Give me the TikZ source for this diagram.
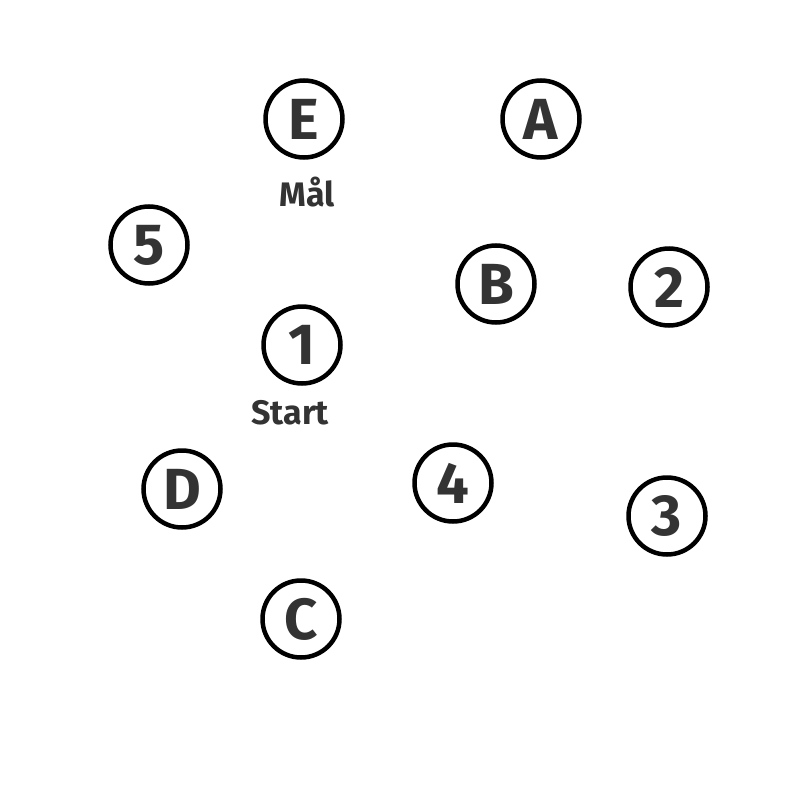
\documentclass[tikz,border=0pt]{standalone}
\usepackage{fontspec}
\setmainfont{Fira Sans}
\definecolor{txt}{HTML}{333333}
\begin{document}
\begin{tikzpicture}[x=1pt,y=-1pt,
  cnode/.style={circle,draw=black,line width=4.5pt,minimum size=77pt,inner sep=0pt,text=txt,font=\fontsize{58}{58}\selectfont\bfseries},
  lbl/.style={text=txt,font=\fontsize{34}{34}\selectfont\bfseries,inner sep=0pt}]
\useasboundingbox (0,0) rectangle (800,800);
\node[cnode] (E) at (304,119) {E};
\node[cnode] (A) at (541,119) {A};
\node[cnode] (n5) at (149,245) {5};
\node[cnode] (B) at (496,284) {B};
\node[cnode] (n2) at (669,287) {2};
\node[cnode] (n1) at (302,345) {1};
\node[cnode] (D) at (182,489) {D};
\node[cnode] (n4) at (453,483) {4};
\node[cnode] (n3) at (667,516) {3};
\node[cnode] (C) at (301,619) {C};
\node[lbl] (mal) at (307,192) {Mål};
\node[lbl] (start) at (290,413) {Start};
\end{tikzpicture}
\end{document}
